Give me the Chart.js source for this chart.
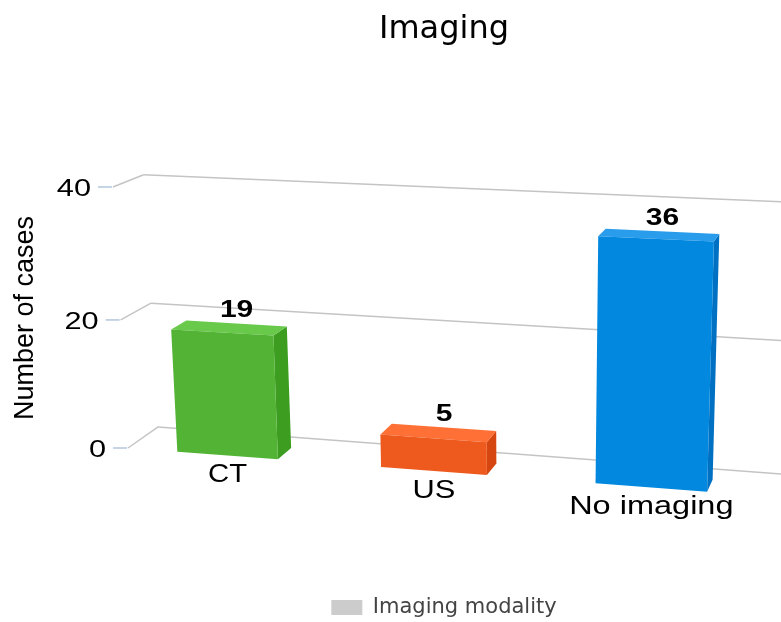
<!DOCTYPE html>
<html>
<head>
<meta charset="utf-8">
<title>Imaging</title>
<script src="https://cdn.jsdelivr.net/npm/chart.js@4.4.1/dist/chart.umd.min.js"></script>
<style>
  html, body { margin: 0; padding: 0; background: #ffffff; }
  #wrap { width: 781px; height: 622px; }
</style>
</head>
<body>
<div id="wrap"><canvas id="chart" width="781" height="622"></canvas></div>
<script>
// ---- data ----
const categories = ['CT', 'US', 'No imaging'];
const caseCounts = [19, 5, 36];
const yTickValues = [0, 20, 40];
const seriesLabel = 'Imaging modality';
const axisTitle = 'Number of cases';

// ---- look ----
const faceColors = [
  { front: '#52b334', side: '#3c9d20', top: '#68c94a' },
  { front: '#ee5a1e', side: '#d64610', top: '#ff7036' },
  { front: '#0288de', side: '#0070c2', top: '#2a9cec' }
];

// Perspective view: the front plane of the plot (u across the categories,
// w up the value axis, both 0..1) is projected onto this screen quadrilateral.
// Depth recedes toward a vanishing point up and to the right.
const view = {
  bl: [128, 448], br: [764, 496], tr: [774, 215], tl: [113, 187],
  vanish: [1013, -173],
  barDepth: 0.018,
  wallDepth: 0.034,
  wallReach: 1.2
};

function squareToQuad(p0, p1, p2, p3) {
  const [x0, y0] = p0, [x1, y1] = p1, [x2, y2] = p2, [x3, y3] = p3;
  const dx1 = x1 - x2, dx2 = x3 - x2, dx3 = x0 - x1 + x2 - x3;
  const dy1 = y1 - y2, dy2 = y3 - y2, dy3 = y0 - y1 + y2 - y3;
  const den = dx1 * dy2 - dx2 * dy1;
  const g = (dx3 * dy2 - dx2 * dy3) / den;
  const h = (dx1 * dy3 - dx3 * dy1) / den;
  const a = x1 - x0 + g * x1, b = x3 - x0 + h * x3, c = x0;
  const d = y1 - y0 + g * y1, e = y3 - y0 + h * y3, f = y0;
  return (u, w) => {
    const z = g * u + h * w + 1;
    return [(a * u + b * w + c) / z, (d * u + e * w + f) / z];
  };
}
const project = squareToQuad(view.bl, view.br, view.tr, view.tl);

function recede(p, t) {
  return [p[0] + t * (view.vanish[0] - p[0]), p[1] + t * (view.vanish[1] - p[1])];
}

function poly(ctx, pts, fill) {
  ctx.beginPath();
  ctx.moveTo(pts[0][0], pts[0][1]);
  for (let i = 1; i < pts.length; i++) ctx.lineTo(pts[i][0], pts[i][1]);
  ctx.closePath();
  ctx.fillStyle = fill;
  ctx.fill();
}

function line(ctx, a, b, color, width) {
  ctx.beginPath();
  ctx.moveTo(a[0], a[1]);
  ctx.lineTo(b[0], b[1]);
  ctx.strokeStyle = color;
  ctx.lineWidth = width;
  ctx.stroke();
}

function stretchedText(ctx, text, x, y, font, sx, align, color) {
  ctx.save();
  ctx.translate(x, y);
  ctx.scale(sx, 1);
  ctx.font = font;
  ctx.fillStyle = color;
  ctx.textAlign = align;
  ctx.textBaseline = 'alphabetic';
  ctx.fillText(text, 0, 0);
  ctx.restore();
}

// Draws the walls, axis, bars and labels in perspective, using the
// positions that Chart.js computed for the flat layout.
const perspectiveBars = {
  id: 'perspectiveBars',
  beforeDatasetsDraw(chart) {
    const ctx = chart.ctx;
    const area = chart.chartArea;
    const yScale = chart.scales.y;
    const toU = (px) => (px - area.left) / (area.right - area.left);
    const toW = (py) => (area.bottom - py) / (area.bottom - area.top);

    ctx.save();
    ctx.lineCap = 'butt';

    // walls and value axis
    yScale.ticks.forEach((t) => {
      const w = toW(yScale.getPixelForValue(t.value));
      const front = project(0, w);
      const backLeft = recede(front, view.wallDepth);
      const backRight = recede(project(view.wallReach, w), view.wallDepth);
      line(ctx, front, backLeft, '#c4c4c4', 1.5);
      line(ctx, backLeft, backRight, '#c4c4c4', 1.5);
      line(ctx, [front[0] - 15, front[1]], [front[0] - 1, front[1]], '#b3c7dc', 1.5);
      stretchedText(ctx, String(t.value), front[0] - 22, front[1] + 8.6,
        '24px "Liberation Sans", Arial, sans-serif', 1.28, 'right', '#000000');
    });

    // axis title
    ctx.save();
    ctx.translate(33, 318);
    ctx.rotate(-Math.PI / 2);
    ctx.font = '27px "Liberation Sans", Arial, sans-serif';
    ctx.fillStyle = '#000000';
    ctx.textAlign = 'center';
    ctx.textBaseline = 'alphabetic';
    ctx.fillText(axisTitle, 0, 0);
    ctx.restore();

    // bars
    const meta = chart.getDatasetMeta(0);
    meta.data.forEach((bar, i) => {
      const p = bar.getProps(['x', 'y', 'base', 'width'], true);
      const uL = toU(p.x - p.width / 2), uR = toU(p.x + p.width / 2);
      const wT = toW(p.y), wB = toW(p.base);
      const fLB = project(uL, wB), fRB = project(uR, wB);
      const fRT = project(uR, wT), fLT = project(uL, wT);
      const bLT = recede(fLT, view.barDepth), bRT = recede(fRT, view.barDepth);
      const bRB = recede(fRB, view.barDepth);
      const c = faceColors[i % faceColors.length];

      poly(ctx, [fRB, fRT, bRT, bRB], c.side);
      poly(ctx, [fLT, fRT, bRT, bLT], c.top);
      poly(ctx, [fLB, fRB, fRT, fLT], c.front);

      // value label above the back edge of the top face
      const value = chart.data.datasets[0].data[i];
      const lx = (bLT[0] + bRT[0]) / 2, ly = (bLT[1] + bRT[1]) / 2;
      stretchedText(ctx, String(value), lx, ly - 6,
        'bold 24px "Liberation Sans", Arial, sans-serif', 1.25, 'center', '#000000');

      // category label under the front edge
      const span = Math.hypot(fRB[0] - fLB[0], fRB[1] - fLB[1]) / (uR - uL);
      const cx = (fLB[0] + fRB[0]) / 2, cy = (fLB[1] + fRB[1]) / 2;
      stretchedText(ctx, chart.data.labels[i], cx, cy + 9 + 0.716 * 25,
        '25px "Liberation Sans", Arial, sans-serif', 1.22 * span / 630, 'center', '#000000');
    });

    ctx.restore();
    return false; // the flat bars are replaced by the drawing above
  }
};

new Chart(document.getElementById('chart'), {
  type: 'bar',
  data: {
    labels: categories,
    datasets: [{
      label: seriesLabel,
      data: caseCounts,
      backgroundColor: '#cccccc',
      borderWidth: 0,
      barPercentage: 0.5,
      categoryPercentage: 1.0
    }]
  },
  options: {
    responsive: false,
    devicePixelRatio: 1,
    animation: false,
    layout: { padding: { left: 107, right: 0, top: 0, bottom: -6 } },
    scales: {
      x: { display: false },
      y: {
        display: false,
        min: 0,
        max: 40,
        afterBuildTicks(scale) {
          scale.ticks = yTickValues.map((v) => ({ value: v }));
        }
      }
    },
    plugins: {
      tooltip: { enabled: false },
      title: {
        display: true,
        text: 'Imaging',
        color: '#000000',
        font: { family: '"DejaVu Sans", sans-serif', size: 32, weight: 'normal' },
        padding: { top: 10, bottom: 10 }
      },
      legend: {
        display: true,
        position: 'bottom',
        labels: {
          boxWidth: 31,
          boxHeight: 15,
          color: '#444444',
          padding: 6,
          font: { family: '"DejaVu Sans", sans-serif', size: 21 }
        }
      }
    }
  },
  plugins: [perspectiveBars]
});
</script>
</body>
</html>
